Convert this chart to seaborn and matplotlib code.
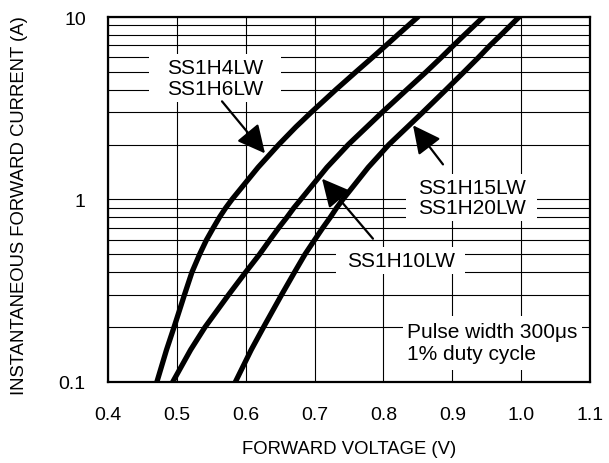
import numpy as np
import pandas as pd
import matplotlib
matplotlib.use('Agg')
import matplotlib.pyplot as plt
import seaborn as sns
from matplotlib.path import Path
from matplotlib.ticker import LogLocator, NullFormatter, FixedLocator

# Datos (corriente en A, tension en V)
corriente = [0.1, 0.15, 0.2, 0.3, 0.4, 0.5, 0.6, 0.7, 0.8, 0.9, 1, 1.5, 2, 2.5, 3, 4, 5, 6, 7, 8, 10]
tension_4lw = [0.471, 0.485, 0.496, 0.511, 0.522, 0.533, 0.543, 0.553, 0.562, 0.571, 0.580,
               0.618, 0.648, 0.673, 0.695, 0.731, 0.760, 0.784, 0.804, 0.821, 0.850]
tension_10lw = [0.494, 0.520, 0.541, 0.575, 0.600, 0.620, 0.635, 0.648, 0.660, 0.670, 0.680,
                0.718, 0.749, 0.776, 0.798, 0.834, 0.862, 0.884, 0.902, 0.918, 0.945]
tension_15lw = [0.585, 0.608, 0.626, 0.652, 0.671, 0.686, 0.700, 0.712, 0.723, 0.732, 0.741,
                0.778, 0.808, 0.835, 0.857, 0.891, 0.917, 0.938, 0.955, 0.971, 0.997]
series = ['SS1H4LW\nSS1H6LW', 'SS1H10LW', 'SS1H15LW\nSS1H20LW']

xticks = [0.4, 0.5, 0.6, 0.7, 0.8, 0.9, 1.0, 1.1]
xtick_labels = ['0.4', '0.5', '0.6', '0.7', '0.8', '0.9', '1.0', '1.1']
yticks = [0.1, 1, 10]
ytick_labels = ['0.1', '1', '10']

df = pd.concat([
    pd.DataFrame({'corriente': corriente, 'tension': t, 'serie': s})
    for t, s in zip([tension_4lw, tension_10lw, tension_15lw], series)
])


def caja(padx, pady):
    """Caja rectangular con relleno distinto en x e y."""
    def estilo(x0, y0, width, height, mutation_size):
        px = padx * mutation_size
        py = pady * mutation_size
        x1, y1 = x0 + width + px, y0 + height + py
        x0, y0 = x0 - px, y0 - py
        return Path([(x0, y0), (x1, y0), (x1, y1), (x0, y1), (x0, y0)], closed=True)
    return estilo


sns.set_style('white')
plt.rcParams['font.family'] = ['Liberation Sans', 'DejaVu Sans']
plt.rcParams['text.color'] = 'black'
plt.rcParams['axes.labelcolor'] = 'black'
plt.rcParams['xtick.color'] = 'black'
plt.rcParams['ytick.color'] = 'black'

fig = plt.figure(figsize=(6.09, 4.64), dpi=100)
ax = fig.add_axes([0.1773, 0.1746, 0.7915, 0.7866])

sns.lineplot(data=df, x='tension', y='corriente', hue='serie',
             palette=['black'] * 3, estimator=None, sort=False,
             legend=False, lw=3.8, solid_joinstyle='round', ax=ax)

ax.set_yscale('log')
ax.set_xlim(0.4, 1.1)
ax.set_ylim(0.1, 10)
ax.set_xticks(xticks)
ax.set_xticklabels(xtick_labels)
ax.yaxis.set_major_locator(FixedLocator(yticks))
ax.set_yticklabels(ytick_labels)
ax.yaxis.set_minor_locator(LogLocator(base=10, subs=np.arange(2, 10)))
ax.yaxis.set_minor_formatter(NullFormatter())
ax.tick_params(which='both', length=0)
ax.tick_params(axis='x', pad=17, labelsize=14)
ax.tick_params(axis='y', pad=16, labelsize=14)

ax.set_axisbelow(True)
ax.grid(which='both', color='black', lw=0.8)
for sp in ax.spines.values():
    sp.set_color('black')
    sp.set_linewidth(1.6)

ax.set_xlabel('FORWARD VOLTAGE (V)', fontsize=13.3)
ax.set_ylabel('INSTANTANEOUS FORWARD CURRENT (A)', fontsize=13.3)
ax.xaxis.set_label_coords(0.5, -0.16)
ax.yaxis.set_label_coords(-0.166, 0.485)

# Etiquetas con flechas
flecha = dict(arrowstyle='-|>,head_length=1.7,head_width=0.85', mutation_scale=10,
              lw=1.6, color='black', shrinkA=0, shrinkB=0)
etiquetas = [
    (series[0], (0.5554, 4.62), (0.5656, 3.45), (0.628, 1.79), 0.85),
    (series[2], (0.928, 1.026), (0.8865, 1.557), (0.843, 2.55), 0.55),
    (series[1], (0.8252, 0.464), (0.7848, 0.61), (0.7108, 1.30), 0.5),
]
for texto, pos, cola, punta, padx in etiquetas:
    ax.text(pos[0], pos[1], texto, ha='center', va='center', fontsize=15,
            linespacing=1.1, zorder=4,
            bbox=dict(boxstyle=caja(padx, 0.2), facecolor='white', edgecolor='none'))
    ax.annotate('', xy=punta, xytext=cola, arrowprops=flecha, zorder=5)

ax.text(0.8342, 0.1638, 'Pulse width 300\u03bcs\n1% duty cycle', ha='left', va='center',
        fontsize=15, linespacing=1.2, zorder=4,
        bbox=dict(boxstyle=caja(0.2, 0.3), facecolor='white', edgecolor='none'))

fig.savefig('out.png', dpi=100)
